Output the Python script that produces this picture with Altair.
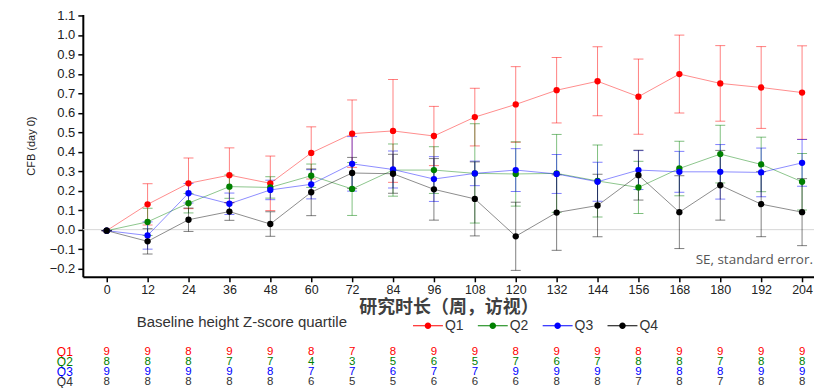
import altair as alt
import pandas as pd

weeks = [0, 12, 24, 36, 48, 60, 72, 84, 96, 108, 120, 132, 144, 156, 168, 180, 192, 204]
quartiles = ["Q1", "Q2", "Q3", "Q4"]
colors = ["#ff0000", "#008000", "#0000ff", "#000000"]
table_colors = ["#ff0000", "#008000", "#0000ff", "#333333"]
y_ticks = [-0.2, -0.1, 0.0, 0.1, 0.2, 0.3, 0.4, 0.5, 0.6, 0.7, 0.8, 0.9, 1.0, 1.1]

q1_mean = [-0.005, 0.13, 0.238, 0.28, 0.238, 0.394, 0.493, 0.507, 0.481, 0.578, 0.643, 0.716, 0.762, 0.683, 0.799, 0.751, 0.73, 0.704]
q1_se = [0, 0.106, 0.13, 0.14, 0.14, 0.134, 0.173, 0.264, 0.152, 0.148, 0.194, 0.168, 0.177, 0.193, 0.2, 0.194, 0.21, 0.24]
q2_mean = [-0.005, 0.04, 0.136, 0.221, 0.217, 0.277, 0.209, 0.306, 0.306, 0.289, 0.286, 0.289, 0.25, 0.217, 0.314, 0.388, 0.335, 0.246]
q2_se = [0, 0.07, 0.05, 0.06, 0.055, 0.06, 0.136, 0.134, 0.12, 0.255, 0.165, 0.2, 0.185, 0.134, 0.14, 0.148, 0.14, 0.145]
q3_mean = [-0.005, -0.03, 0.187, 0.133, 0.204, 0.233, 0.338, 0.309, 0.26, 0.289, 0.306, 0.286, 0.246, 0.306, 0.297, 0.297, 0.294, 0.343]
q3_se = [0, 0.07, 0.05, 0.055, 0.05, 0.075, 0.14, 0.095, 0.115, 0.063, 0.11, 0.1, 0.1, 0.1, 0.105, 0.14, 0.125, 0.12]
q4_mean = [-0.005, -0.06, 0.051, 0.093, 0.029, 0.192, 0.291, 0.287, 0.207, 0.158, -0.034, 0.088, 0.124, 0.28, 0.09, 0.228, 0.131, 0.09]
q4_se = [0, 0.065, 0.06, 0.045, 0.063, 0.12, 0.08, 0.1, 0.158, 0.19, 0.175, 0.194, 0.16, 0.128, 0.187, 0.179, 0.167, 0.172]

q1_n = [9, 9, 8, 9, 9, 8, 7, 8, 9, 9, 8, 9, 9, 8, 9, 9, 9, 9]
q2_n = [8, 8, 8, 7, 7, 4, 3, 5, 6, 5, 7, 6, 7, 8, 8, 7, 8, 8]
q3_n = [9, 9, 9, 9, 8, 7, 7, 6, 7, 7, 9, 9, 9, 9, 8, 8, 9, 9]
q4_n = [8, 8, 8, 8, 8, 6, 5, 5, 6, 6, 6, 8, 8, 7, 8, 7, 8, 8]

means = [q1_mean, q2_mean, q3_mean, q4_mean]
ses = [q1_se, q2_se, q3_se, q4_se]
counts = [q1_n, q2_n, q3_n, q4_n]

rows = []
for q, m, s in zip(quartiles, means, ses):
    for w, mv, sv in zip(weeks, m, s):
        rows.append({"week": w, "quartile": q, "mean": mv, "lo": mv - sv, "hi": mv + sv})
df = pd.DataFrame(rows)

FONT = "Liberation Sans"

xscale = alt.Scale(domain=[-7, 207.5], nice=False, zero=False)
yscale = alt.Scale(domain=[-0.242, 1.105], nice=False, zero=False)
cscale = alt.Scale(domain=quartiles, range=colors)

xaxis = alt.Axis(values=weeks, title="研究时长（周，访视）", titleFont="Noto Sans CJK SC",
                 titleFontSize=18, titleFontWeight="bold", titleColor="#404040",
                 titlePadding=2, labelFontSize=12.5, labelColor="#222222", labelPadding=2,
                 labelOverlap=False)
yaxis = alt.Axis(values=y_ticks, format=".1f", labelOverlap=False, labelFlush=False,
                 title="CFB (day 0)", titleFont=FONT, titleFontSize=11,
                 titleFontWeight="normal", titleColor="#222222", titlePadding=13,
                 labelFontSize=13, labelColor="#222222", labelPadding=3)

legend_path = ("M-1,-0.035H1V0.035H-1Z "
               "M0.22,0A0.22,0.22 0 1,1 -0.22,0A0.22,0.22 0 1,1 0.22,0Z")
legend = alt.Legend(title="Baseline height Z-score quartile", orient="none",
                    legendX=54, legendY=297, direction="horizontal",
                    titleOrient="left", titleFontSize=15, titleFont=FONT, titleLimit=400,
                    titleFontWeight="normal", titleColor="#333333", titlePadding=66,
                    symbolType=legend_path, symbolSize=900, symbolStrokeWidth=0,
                    symbolOpacity=1, labelFontSize=14, labelFont=FONT,
                    labelColor="#333333", labelOffset=2, columnPadding=14)

base = alt.Chart(df)
color = alt.Color("quartile:N", scale=cscale, legend=legend)

zero_line = alt.Chart(pd.DataFrame({"z": [0]})).mark_rule(color="#d6d6d6", strokeWidth=1).encode(
    y=alt.Y("z:Q", scale=yscale, axis=yaxis))

errs = base.mark_errorbar(ticks=alt.MarkConfig(size=10, opacity=0.5), opacity=0.5, thickness=1).encode(
    x=alt.X("week:Q", scale=xscale, axis=xaxis),
    y=alt.Y("lo:Q", scale=yscale, axis=yaxis),
    y2="hi:Q",
    color=color,
)

lines = base.mark_line(strokeWidth=1, opacity=0.45).encode(
    x=alt.X("week:Q", scale=xscale, axis=xaxis),
    y=alt.Y("mean:Q", scale=yscale, axis=yaxis),
    color=color,
    detail="quartile:N",
)

points = base.mark_point(filled=True, size=40, opacity=1).encode(
    x=alt.X("week:Q", scale=xscale, axis=xaxis),
    y=alt.Y("mean:Q", scale=yscale, axis=yaxis),
    color=color,
)

note = alt.Chart(pd.DataFrame({"t": ["SE, standard error."]})).mark_text(
    align="right", baseline="middle", font="Open Sans", fontSize=13.5, color="#555555"
).encode(x=alt.value(732), y=alt.value(246), text="t:N")

table_layers = []
for i, (q, n, c) in enumerate(zip(quartiles, counts, table_colors)):
    tdf = pd.DataFrame({"week": weeks, "n": n})
    table_layers.append(
        alt.Chart(tdf).mark_text(font=FONT, fontSize=11.5, color=c, baseline="middle").encode(
            x=alt.X("week:Q", scale=xscale, axis=xaxis), y=alt.value(338 + 10 * i), text="n:Q"))
    table_layers.append(
        alt.Chart(pd.DataFrame({"q": [q]})).mark_text(font=FONT, fontSize=12, color=c,
                                                       baseline="middle", align="center").encode(
            x=alt.value(-18), y=alt.value(338 + 10 * i), text="q:N"))

chart = alt.layer(zero_line, errs, lines, points, note, *table_layers).properties(
    width=733, height=263,
    padding={"left": 75, "top": 6, "right": 0, "bottom": 111},
    autosize="none",
).configure_view(stroke=None).configure_axis(
    grid=False, domainColor="#000000", domainWidth=2, tickColor="#000000", tickWidth=1.5,
    tickSize=5, labelFont=FONT, titleFont=FONT
)

chart.save("out.html", embed_options={"renderer": "svg", "actions": False})
